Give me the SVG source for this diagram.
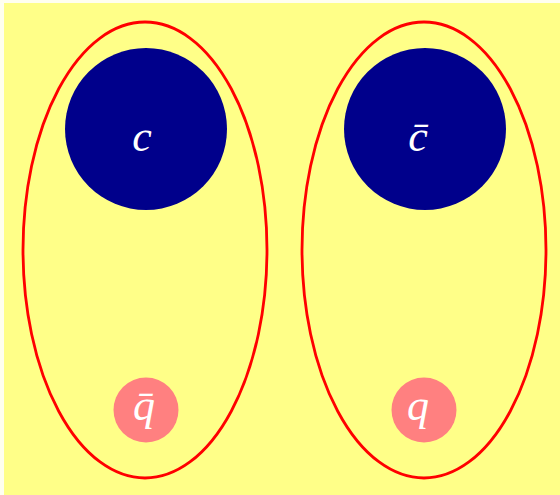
<svg xmlns="http://www.w3.org/2000/svg" width="560" height="495" viewBox="0 0 560 495">
<style>
.bag{fill:none;stroke:#ff0000;stroke-width:2.8}
.heavy{fill:#00008b}
.light{fill:#ff8080}
.lbl{font-family:"Liberation Serif","DejaVu Serif",serif;font-style:italic;fill:#ffffff;font-size:44px;text-anchor:middle}
</style>
<rect x="0" y="0" width="560" height="495" fill="#fffff0"/>
<rect x="4" y="3" width="556" height="492" fill="#ffff88"/>
<g id="meson-left">
<ellipse class="bag" cx="145" cy="250" rx="122" ry="228"/>
<g id="charm">
<circle class="heavy" cx="146" cy="129" r="81"/>
<text class="lbl" x="142" y="151">c</text>
</g>
<g id="antiquark">
<circle class="light" cx="146" cy="410" r="32.5"/>
<text class="lbl" x="144" y="420">q̄</text>
</g>
</g>
<g id="meson-right">
<ellipse class="bag" cx="424" cy="250" rx="122" ry="228"/>
<g id="anticharm">
<circle class="heavy" cx="425" cy="129" r="81"/>
<text class="lbl" x="418" y="151">c̄</text>
</g>
<g id="quark">
<circle class="light" cx="424" cy="410" r="32.5"/>
<text class="lbl" x="418" y="420">q</text>
</g>
</g>
<g id="connectors"/>
</svg>
